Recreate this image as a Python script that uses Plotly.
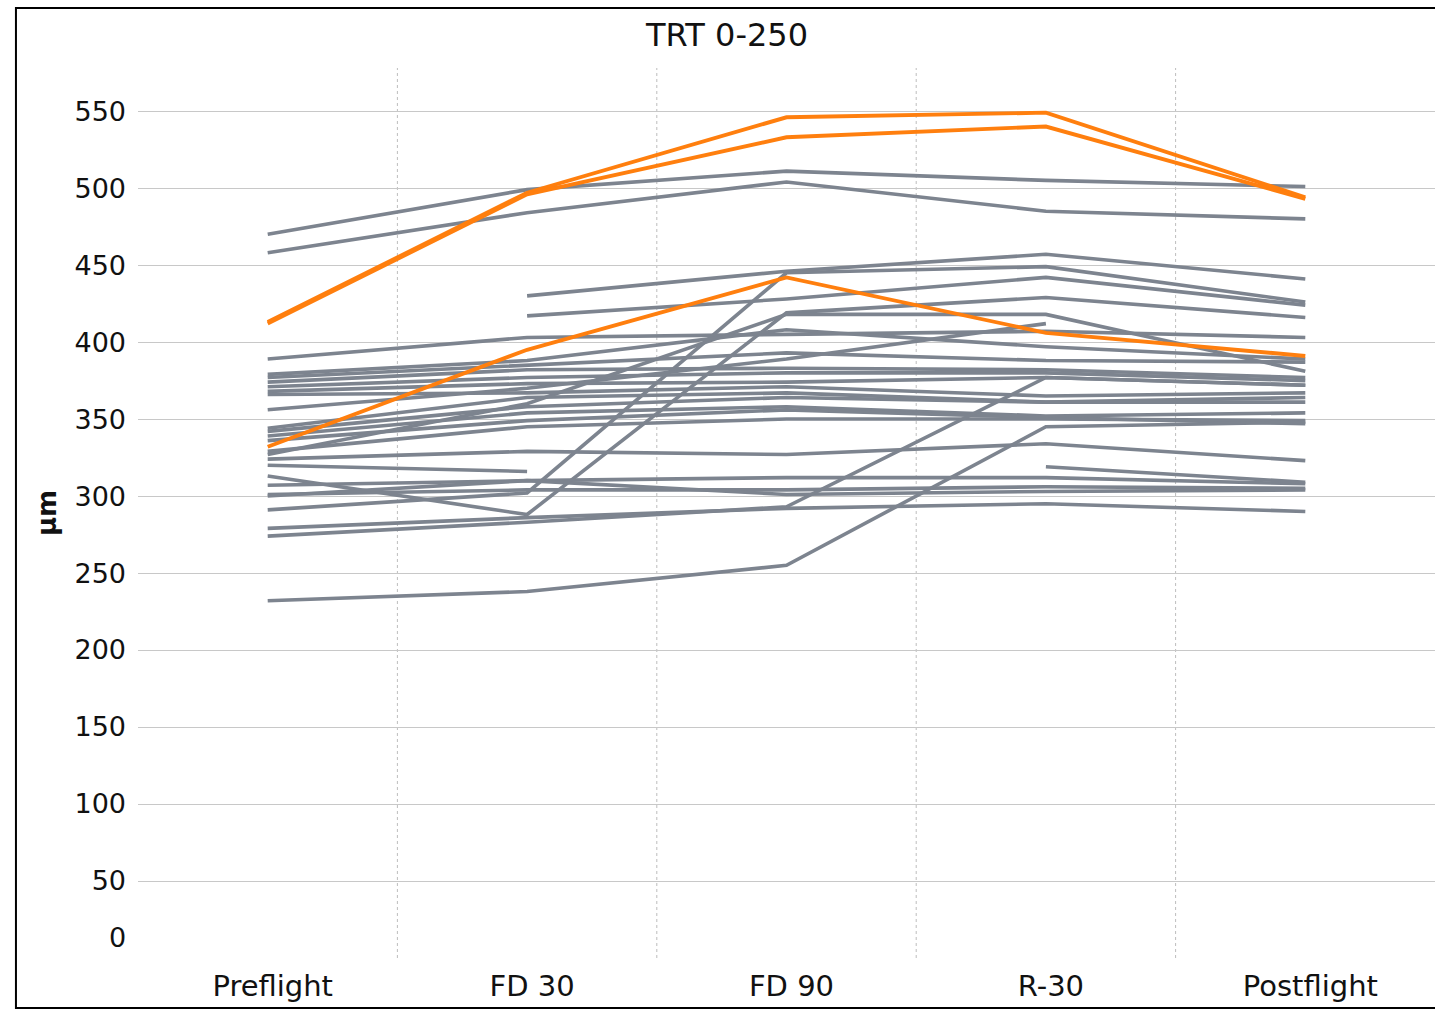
import plotly.graph_objects as go

categories = ["Preflight", "FD 30", "FD 90", "R-30", "Postflight"]

# Gray subject lines (Preflight, FD 30, FD 90, R-30, Postflight); None = missing
gray_series = [
    [470, 499, 511, 505, 501],
    [458, 484, 504, 485, 480],
    [None, 430, 446, 457, 441],
    [None, 417, 428, 442, 424],
    [291, 302, 445, 449, 426],
    [313, 288, 419, 429, 416],
    [327, 360, 418, 418, 381],
    [389, 403, 405, 407, 403],
    [356, 370, 389, 412, None],
    [379, 388, 408, 397, 389],
    [377, 385, 393, 388, 387],
    [374, 382, 383, 382, 377],
    [371, 377, 380, 380, 375],
    [368, 373, 374, 377, 372],
    [366, 367, 371, 365, 367],
    [344, 364, 367, 361, 364],
    [342, 358, 364, 361, 361],
    [339, 354, 358, 352, 354],
    [336, 349, 356, 351, 347],
    [329, 345, 350, 350, 349],
    [324, 329, 327, 334, 323],
    [320, 316, None, None, None],
    [307, 310, 312, 312, 308],
    [301, 304, 304, 306, 305],
    [300, 310, 301, 303, 304],
    [279, 286, 292, 295, 290],
    [274, 283, 293, 377, 372],
    [232, 238, 255, 345, 348],
    [None, None, None, 319, 309],
]

# Highlighted (orange) subject lines
orange_series = [
    [413, 497, 546, 549, 494],
    [412, 496, 533, 540, 493],
    [332, 395, 442, 406, 391],
]

y_ticks = [50, 100, 150, 200, 250, 300, 350, 400, 450, 500, 550]

GRAY = "#7d848f"
ORANGE = "#ff7f0e"
FONT = "DejaVu Sans"

fig = go.Figure()
for s in gray_series:
    fig.add_trace(go.Scatter(x=categories, y=s, mode="lines",
                             line=dict(color=GRAY, width=3.6),
                             connectgaps=False, showlegend=False, hoverinfo="skip"))
for s in orange_series:
    fig.add_trace(go.Scatter(x=categories, y=s, mode="lines",
                             line=dict(color=ORANGE, width=3.9),
                             connectgaps=False, showlegend=False, hoverinfo="skip"))

# dotted vertical separators between categories
for b in [0.5, 1.5, 2.5, 3.5]:
    fig.add_shape(type="line", xref="x", yref="paper", x0=b, x1=b, y0=0, y1=1,
                  line=dict(color="#bdbdbd", width=1, dash="dot"), layer="below")

# outer frame
fig.add_shape(type="rect", xref="paper", yref="paper",
              x0=-0.0941, x1=1.0015, y0=-0.0562, y1=1.0674,
              line=dict(color="black", width=2))

fig.add_annotation(text="0", xref="paper", yref="y", x=-0.0075, y=13,
                   xanchor="right", yanchor="middle", showarrow=False,
                   font=dict(family=FONT, size=27, color="#111111"))

fig.update_layout(
    width=1435, height=1016,
    margin=dict(l=138, r=0, t=68, b=58),
    paper_bgcolor="white", plot_bgcolor="white",
    title=dict(text="TRT 0-250", x=0.5066, xref="container", xanchor="center",
               y=1 - 35 / 1016, yref="container", yanchor="middle",
               font=dict(family=FONT, size=32, color="#111111")),
    font=dict(family=FONT, color="#111111"),
)
fig.update_xaxes(type="category", range=[-0.5, 4.5], showgrid=False, showline=False,
                 zeroline=False, ticks="", ticklabelstandoff=8, ticklabelshift=5,
                 tickfont=dict(family=FONT, size=29, color="#111111"))
fig.update_yaxes(range=[0, 578], tickvals=y_ticks, showgrid=True, gridcolor="#c8c8c8",
                 gridwidth=1, zeroline=False, showline=False, ticks="",
                 ticklabelstandoff=11,
                 tickfont=dict(family=FONT, size=27, color="#111111"),
                 title=dict(text="<b>μm</b>", font=dict(family=FONT, size=26, color="#111111"),
                            standoff=10))

fig.write_html("out.html")
